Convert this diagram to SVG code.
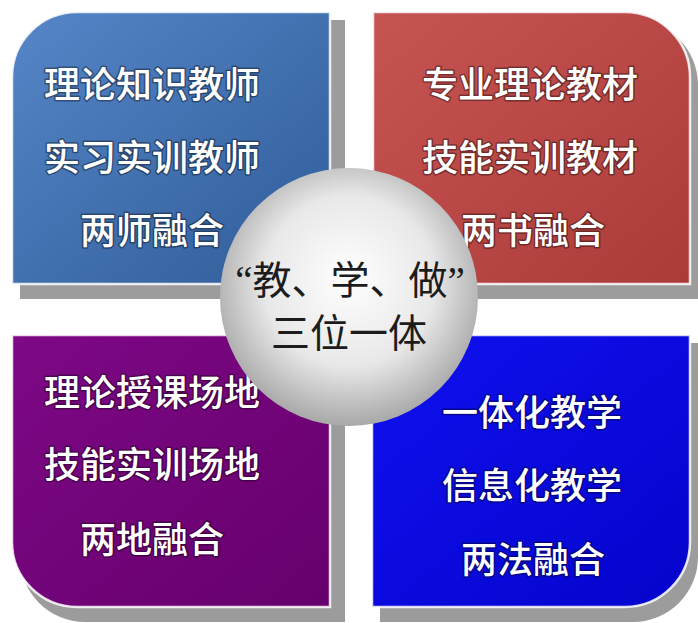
<svg xmlns="http://www.w3.org/2000/svg" width="698" height="623" viewBox="0 0 698 623">
<style>
.shadow{fill:#9c9c9c}
.panel{stroke:#ffffff;stroke-opacity:0.85;stroke-width:2.5}
.lbl{font-family:"Noto Sans CJK SC","Noto Sans",sans-serif;font-size:36px;font-weight:500;fill:#ffffff;text-anchor:middle;dominant-baseline:central;stroke:#000000;stroke-opacity:0.4;stroke-width:3;paint-order:stroke;stroke-linejoin:round}
.ctr{font-family:"Liberation Serif","Noto Sans CJK SC",serif;font-size:39px;font-weight:400;fill:#1c1c1c;text-anchor:middle;dominant-baseline:central}
</style>
<defs>
<linearGradient id="gBlue" x1="0" y1="0" x2="1" y2="1">
<stop offset="0" stop-color="#5686c8"/>
<stop offset="1" stop-color="#2f5c98"/>
</linearGradient>
<linearGradient id="gRed" x1="0" y1="0" x2="1" y2="1">
<stop offset="0" stop-color="#c65452"/>
<stop offset="1" stop-color="#ab3b39"/>
</linearGradient>
<linearGradient id="gPurple" x1="0" y1="0" x2="1" y2="1">
<stop offset="0" stop-color="#7e0886"/>
<stop offset="1" stop-color="#66006c"/>
</linearGradient>
<linearGradient id="gDeep" x1="0" y1="0" x2="1" y2="1">
<stop offset="0" stop-color="#1010f0"/>
<stop offset="1" stop-color="#0404cc"/>
</linearGradient>
<radialGradient id="gBall" cx="0.5" cy="0.45" r="0.55" fx="0.5" fy="0.42">
<stop offset="0" stop-color="#ffffff"/>
<stop offset="0.6" stop-color="#e8e8e8"/>
<stop offset="1" stop-color="#a8a8a8"/>
</radialGradient>
</defs>
<rect width="698" height="623" fill="#ffffff"/>
<g id="connectors"></g>
<g id="teachers">
<path class="shadow" d="M20,85 A65,65 0 0 1 85,20 H345 V299 H20 Z"/>
<path class="panel" fill="url(#gBlue)" d="M12,77 A65,65 0 0 1 77,12 H330 V284 H12 Z"/>
<text class="lbl" x="152" y="82">理论知识教师</text>
<text class="lbl" x="152" y="155">实习实训教师</text>
<text class="lbl" x="152" y="228">两师融合</text>
</g>
<g id="textbooks">
<path class="shadow" d="M381,20 H633 A65,65 0 0 1 698,85 V299 H381 Z"/>
<path class="panel" fill="url(#gRed)" d="M373,12 H625 A65,65 0 0 1 690,77 V284 H373 Z"/>
<text class="lbl" x="530" y="82">专业理论教材</text>
<text class="lbl" x="530" y="155">技能实训教材</text>
<text class="lbl" x="533" y="228">两书融合</text>
</g>
<g id="venues">
<path class="shadow" d="M20,343 H345 V622 H85 A65,65 0 0 1 20,557 Z"/>
<path class="panel" fill="url(#gPurple)" d="M12,335 H330 V607 H77 A65,65 0 0 1 12,542 Z"/>
<text class="lbl" x="152" y="390">理论授课场地</text>
<text class="lbl" x="152" y="462">技能实训场地</text>
<text class="lbl" x="152" y="537">两地融合</text>
</g>
<g id="methods">
<path class="shadow" d="M380,343 H698 V557 A65,65 0 0 1 633,622 H380 Z"/>
<path class="panel" fill="url(#gDeep)" d="M372,335 H690 V542 A65,65 0 0 1 625,607 H372 Z"/>
<text class="lbl" x="532" y="410">一体化教学</text>
<text class="lbl" x="532" y="483">信息化教学</text>
<text class="lbl" x="533" y="557">两法融合</text>
</g>
<g id="center">
<circle cx="349" cy="297" r="129" fill="url(#gBall)"/>
<text class="ctr" x="350" y="280">“教、学、做”</text>
<text class="ctr" x="349" y="333" font-size="40">三位一体</text>
</g>
</svg>
